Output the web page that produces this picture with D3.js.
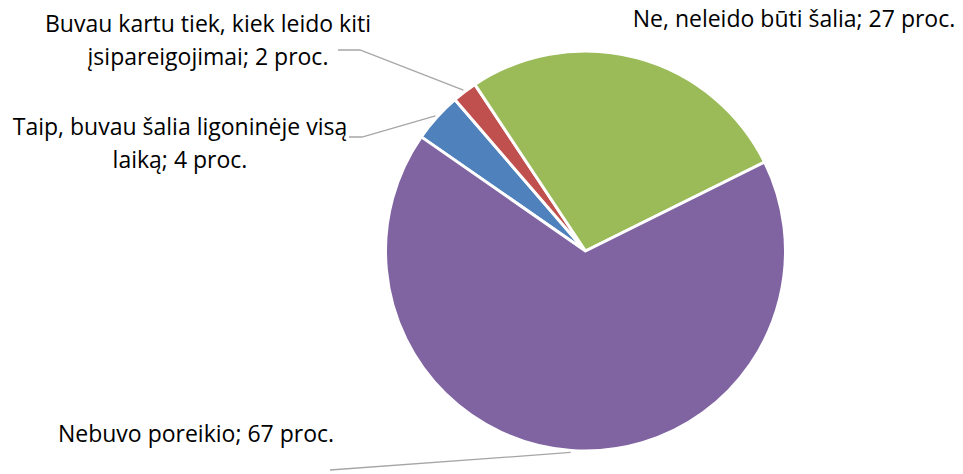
<!DOCTYPE html>
<html>
<head>
<meta charset="utf-8">
<script src="https://cdn.jsdelivr.net/npm/d3@7"></script>
<style>
  body { margin: 0; background: #fff; }
  text { font-family: "Open Sans", Lato, sans-serif; font-size: 23px; fill: #000; }
</style>
</head>
<body>
<svg id="chart" width="963" height="474"></svg>
<script>
var categories = ['Taip, buvau šalia ligoninėje visą laiką', 'Buvau kartu tiek, kiek leido kiti įsipareigojimai', 'Ne, neleido būti šalia', 'Nebuvo poreikio'];
var values = [4, 2, 27, 67];
var colors = ['#4F81BD', '#C0504D', '#9BBB59', '#8064A2'];
// label lines as shown, one entry per slice
var labelLines = [
  ['Taip, buvau šalia ligoninėje visą', 'laiką; 4 proc.'],
  ['Buvau kartu tiek, kiek leido kiti', 'įsipareigojimai; 2 proc.'],
  ['Ne, neleido būti šalia; 27 proc.'],
  ['Nebuvo poreikio; 67 proc.']
];

var svg = d3.select('#chart');
var cx = 585.5, cy = 251, r = 200;

var data = categories.map(function(c, i) { return {name: c, value: values[i], color: colors[i], lines: labelLines[i]}; });

var startRad = -55.2 * Math.PI / 180;
var pie = d3.pie().sort(null).value(function(d) { return d.value; })
    .startAngle(startRad).endAngle(startRad + 2 * Math.PI);
var arc = d3.arc().innerRadius(0).outerRadius(r);
var arcs = pie(data);

var g = svg.append('g').attr('transform', 'translate(' + cx + ',' + cy + ')');
g.selectAll('path')
  .data(arcs)
  .enter().append('path')
  .attr('d', arc)
  .style('fill', function(d) { return d.data.color; })
  .style('stroke', '#fff')
  .style('stroke-width', 3)
  .style('stroke-linejoin', 'round');

// label placement (text centre x, first baseline y) and leader line anchor
var labelPos = [
  {x: 180, y: 135, lead: [[349, 137], [362, 137]]},
  {x: 208, y: 32, lead: [[338, 50], [360, 50]]},
  {x: 794, y: 27, lead: null},
  {x: 196, y: 442, lead: [[330, 470]]}
];

arcs.forEach(function(a, i) {
  var p = labelPos[i];
  var t = svg.append('text')
    .attr('x', p.x).attr('y', p.y)
    .style('text-anchor', 'middle');
  a.data.lines.forEach(function(line, j) {
    t.append('tspan').attr('x', p.x).attr('dy', j === 0 ? 0 : 33).text(line);
  });
  if (p.lead) {
    var mid = (a.startAngle + a.endAngle) / 2;
    var edge = [cx + Math.sin(mid) * (r + 2), cy - Math.cos(mid) * (r + 2)];
    var pts = p.lead.concat([edge]);
    svg.append('path')
      .attr('d', d3.line()(pts))
      .style('fill', 'none')
      .style('stroke', '#A6A6A6')
      .style('stroke-width', 1.3);
  }
});
</script>
</body>
</html>
